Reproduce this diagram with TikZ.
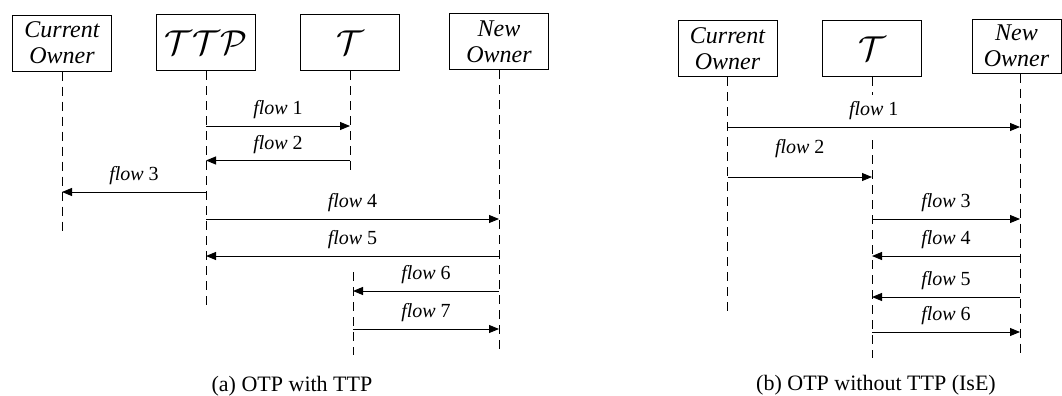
\documentclass[tikz,border=0pt]{standalone}
\usepackage{fontspec}
\setmainfont{Liberation Serif}
\usepackage{tikz}
\usetikzlibrary{arrows.meta,positioning,calc}
\tikzset{
  actor/.style={rectangle, draw=black, line width=0.5pt,
                minimum width=49.5pt, minimum height=28pt, inner sep=0pt,
                align=center, font=\fontsize{12}{13}\selectfont\itshape},
  callig/.style={font=\fontsize{16}{18}\selectfont},
  lifeline/.style={line width=0.5pt, dash pattern=on 4.5pt off 3pt},
  msg/.style={-{Triangle[length=5pt,width=4pt]}, line width=0.5pt},
  flowlbl/.style={midway, yshift=8pt, inner sep=0pt, font=\fontsize{10}{12}\selectfont},
  caption/.style={font=\fontsize{11}{13}\selectfont}
}

\begin{document}
\begin{tikzpicture}[x=0.5pt, y=-0.5pt]
  \useasboundingbox (0,0) rectangle (1062,396);
  % (a) OTP with TTP
  \node[actor] (co) at (62,43) {Current\\Owner};
  \node[actor, callig] (ttp) at (206,42.5) {$\mathcal{TTP}$};
  \node[actor, callig] (t) at (350,42.5) {$\mathcal{T}$};
  \node[actor] (no) at (499,41.5) {New\\Owner};
  \coordinate (t2) at ([xshift=1.5pt]t.center);
  \draw[lifeline] (co.south) -- (co |- 0,231);
  \draw[lifeline] (ttp.south) -- (ttp |- 0,307);
  \draw[lifeline] (t.south) -- (t |- 0,176);
  \draw[lifeline] (t2 |- 0,272) -- (t2 |- 0,355);
  \draw[lifeline] (no.south) -- (no |- 0,355);
  \draw[msg] (ttp |- 0,126) -- node[flowlbl] (a1) {\textit{flow} 1} (t |- 0,126);
  \draw[msg] (t |- 0,160.5) -- node[flowlbl] (a2) {\textit{flow} 2} (ttp |- 0,160.5);
  \draw[msg] (ttp |- 0,192) -- node[flowlbl] (a3) {\textit{flow} 3} (co |- 0,192);
  \draw[msg] (ttp |- 0,219) -- node[flowlbl] (a4) {\textit{flow} 4} (no |- 0,219);
  \draw[msg] (no |- 0,256) -- node[flowlbl] (a5) {\textit{flow} 5} (ttp |- 0,256);
  \draw[msg] (no |- 0,291) -- node[flowlbl] (a6) {\textit{flow} 6} (t2 |- 0,291);
  \draw[msg] (t2 |- 0,329) -- node[flowlbl] (a7) {\textit{flow} 7} (no |- 0,329);
  \node[caption] (capa) at (292,386) {(a) OTP with TTP};
  % (b) OTP without TTP (IsE)
  \node[actor] (co2) at (727.5,48.5) {Current\\Owner};
  \node[actor, callig] (t3) at (872,48.5) {$\mathcal{T}$};
  \node[actor, minimum width=44.5pt, minimum height=27pt] (no2) at (1016.5,46) {New\\Owner};
  \coordinate (n2) at ([xshift=1.75pt]no2.center);
  \draw[lifeline] (co2.south) -- (co2 |- 0,312);
  \draw[lifeline] (t3.south) -- (t3 |- 0,95);
  \draw[lifeline] (t3 |- 0,140) -- (t3 |- 0,358);
  \draw[lifeline] (n2 |- no2.south) -- (n2 |- 0,358);
  \draw[msg] (co2 |- 0,127) -- node[flowlbl] (b1) {\textit{flow} 1} (n2 |- 0,127);
  \draw[msg] (co2 |- 0,177) -- node[flowlbl, yshift=6pt] (b2) {\textit{flow} 2} (t3 |- 0,177);
  \draw[msg] (t3 |- 0,219) -- node[flowlbl] (b3) {\textit{flow} 3} (n2 |- 0,219);
  \draw[msg] (n2 |- 0,256) -- node[flowlbl] (b4) {\textit{flow} 4} (t3 |- 0,256);
  \draw[msg] (n2 |- 0,297) -- node[flowlbl] (b5) {\textit{flow} 5} (t3 |- 0,297);
  \draw[msg] (t3 |- 0,332) -- node[flowlbl] (b6) {\textit{flow} 6} (n2 |- 0,332);
  \node[caption] (capb) at (876,385) {(b) OTP without TTP (IsE)};
\end{tikzpicture}
\end{document}
